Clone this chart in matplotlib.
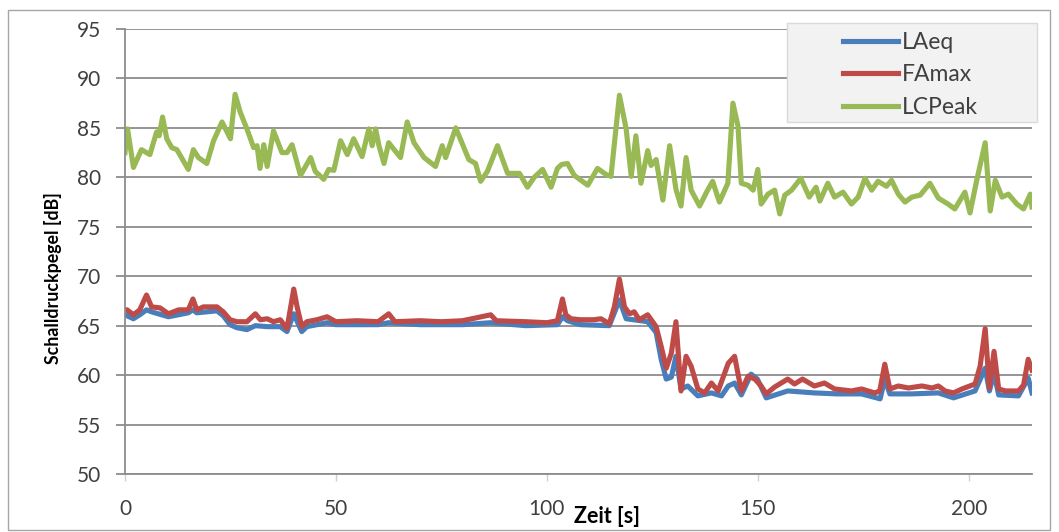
import matplotlib
matplotlib.use("Agg")
import matplotlib.pyplot as plt
from matplotlib.patches import Rectangle

plt.rcParams['font.family'] = ['Lato', 'DejaVu Sans']

# LCPeak (green)
t_peak = [0, 0.6, 2.0, 3.9, 5.9, 7.5, 8.1, 8.9, 9.9, 11.1, 12.3, 15.0, 16.2, 17.4, 19.4,
          21.0, 23.0, 25.0, 26.1, 27.3, 28.9, 30.5, 31.3, 32.0, 32.9, 33.7, 35.2, 37.2,
          38.4, 39.6, 41.6, 44.0, 45.1, 47.1, 48.3, 49.5, 51.1, 52.7, 54.2, 56.2, 57.8,
          58.6, 59.4, 60.2, 61.4, 62.5, 65.3, 66.9, 68.5, 70.9, 73.6, 75.2, 76.0, 78.4,
          81.5, 83.1, 84.3, 85.9, 88.3, 90.7, 93.5, 95.4, 97.0, 99.0, 101.0, 102.5,
          103.5, 104.9, 106.5, 108.1, 109.7, 112.0, 114.0, 115.2, 117.2, 118.8, 120.0,
          121.1, 122.3, 123.9, 124.7, 125.9, 127.5, 129.1, 130.6, 131.8, 133.0, 134.2,
          136.2, 138.1, 139.3, 140.9, 142.9, 144.1, 145.3, 146.1, 147.7, 148.9, 150.0,
          150.8, 152.4, 154.0, 155.2, 156.4, 158.0, 160.2, 162.2, 163.8, 164.7, 166.6,
          168.2, 170.2, 172.2, 173.8, 175.4, 177.0, 178.5, 180.5, 181.7, 183.3, 184.9,
          186.5, 188.5, 190.8, 192.8, 195.1, 196.7, 199.1, 200.3, 201.9, 203.9, 205.1,
          206.3, 207.9, 209.4, 211.4, 213.0, 214.6, 215.0]
lc_peak = [82.5, 84.9, 81.0, 82.8, 82.3, 84.6, 84.2, 86.1, 83.9, 83.0, 82.8, 80.8, 82.8, 82.0, 81.4,
           83.7, 85.6, 83.9, 88.4, 86.6, 84.9, 83.0, 83.2, 80.9, 83.3, 81.1, 84.7, 82.5,
           82.5, 83.3, 80.2, 82.0, 80.6, 79.8, 80.8, 80.7, 83.7, 82.3, 83.9, 82.1, 84.9,
           83.2, 84.9, 83.2, 81.4, 83.5, 82.0, 85.6, 83.5, 82.0, 81.1, 83.2, 82.0, 85.0,
           81.8, 81.4, 79.6, 80.6, 83.2, 80.4, 80.4, 79.0, 80.0, 80.8, 79.0, 80.9,
           81.3, 81.4, 80.2, 79.7, 79.2, 80.9, 80.3, 80.1, 88.3, 84.9, 80.1,
           84.2, 79.4, 82.7, 81.2, 81.8, 77.7, 83.2, 78.8, 77.1, 82.0, 78.7,
           77.1, 78.7, 79.6, 77.5, 79.4, 87.5, 85.2, 79.4, 79.2, 78.7, 80.8,
           77.3, 78.3, 78.7, 76.3, 78.2, 78.7, 79.9, 78.0, 79.0, 77.6, 79.4,
           78.0, 78.5, 77.3, 78.0, 79.9, 78.7, 79.6, 79.1, 79.7, 78.3, 77.5,
           78.0, 78.2, 79.4, 77.9, 77.3, 76.8, 78.5, 76.4, 79.7, 83.5, 76.6,
           79.7, 78.0, 78.3, 77.3, 76.8, 78.3, 77.0]

# FAmax (red)
t_fmax = [0, 0.5, 2.0, 3.5, 5.1, 6.3, 8.3, 10.3, 12.7, 15.0, 16.1, 17.0, 18.6, 21.8, 23.3,
          24.9, 26.5, 28.9, 30.9, 32.1, 33.7, 35.2, 36.8, 38.4, 40.0, 40.8, 41.9, 43.1,
          45.5, 47.9, 50.0, 55.0, 60.0, 62.5, 64.0, 70.0, 75.0, 80.0, 86.7, 88.0, 95.0,
          100.0, 102.5, 103.7, 104.5, 105.7, 108.0, 111.2, 112.8, 114.8, 116.0, 117.2,
          118.4, 119.6, 120.7, 121.9, 123.9, 125.9, 127.1, 128.3, 129.5, 130.6, 131.8,
          133.0, 134.2, 135.8, 137.4, 139.0, 140.6, 143.0, 144.5, 146.1, 147.7, 149.3,
          150.8, 152.0, 154.0, 157.1, 158.7, 160.6, 163.4, 165.8, 168.2, 172.2, 174.6,
          177.7, 178.9, 180.1, 181.3, 183.3, 185.7, 188.9, 191.3, 192.8, 194.4, 196.4,
          198.4, 201.5, 202.7, 203.9, 204.9, 206.0, 207.1, 208.7, 211.8, 213.0, 214.1, 215.0]
fa_max = [66.6, 66.6, 66.1, 66.6, 68.1, 66.9, 66.8, 66.2, 66.6, 66.6, 67.7, 66.6, 66.9, 66.9, 66.4,
          65.6, 65.4, 65.4, 66.2, 65.6, 65.7, 65.4, 65.6, 64.7, 68.7, 66.9, 64.9, 65.4,
          65.6, 65.9, 65.4, 65.5, 65.4, 66.2, 65.4, 65.5, 65.4, 65.5, 66.1, 65.5, 65.4,
          65.3, 65.5, 67.7, 66.1, 65.7, 65.6, 65.6, 65.7, 65.2, 66.9, 69.7,
          66.9, 66.2, 66.4, 65.6, 66.1, 64.9, 62.9, 60.7, 62.2, 65.4, 58.4,
          61.9, 60.9, 58.6, 58.2, 59.2, 58.4, 61.2, 61.9, 58.4, 59.9, 59.6,
          58.9, 58.1, 58.8, 59.6, 59.1, 59.6, 58.9, 59.2, 58.6, 58.4, 58.6,
          58.2, 58.4, 61.1, 58.6, 58.9, 58.7, 58.9, 58.7, 58.9, 58.4, 58.2,
          58.6, 59.1, 60.9, 64.7, 58.7, 62.4, 58.6, 58.4, 58.4, 59.0, 61.6, 60.5]

# LAeq (blue)
t_laeq = [0, 2.0, 3.5, 5.1, 6.3, 10.3, 15.0, 16.1, 17.0, 21.8, 23.3, 24.9, 26.5, 28.9, 30.9,
          33.7, 36.8, 38.4, 40.0, 41.9, 43.1, 45.5, 47.9, 50.0, 60.0, 62.5, 70.0, 80.0,
          86.7, 95.0, 102.5, 103.7, 104.9, 108.0, 114.8, 117.2, 118.8, 123.9, 125.9,
          127.1, 128.3, 129.5, 130.6, 131.8, 133.4, 135.8, 139.0, 141.4, 143.0, 144.5,
          146.1, 148.4, 149.9, 152.0, 157.1, 163.4, 168.8, 174.6, 179.0, 180.1, 181.3,
          186.5, 192.8, 196.4, 201.5, 203.9, 204.9, 206.0, 207.1, 211.8, 214.1, 215.0]
la_eq = [66.1, 65.7, 66.1, 66.6, 66.4, 65.9, 66.3, 66.6, 66.3, 66.5, 66.0, 65.1, 64.8, 64.6, 65.0,
         64.9, 64.9, 64.4, 66.2, 64.4, 64.9, 65.1, 65.3, 65.1, 65.1, 65.3, 65.1, 65.1,
         65.3, 65.0, 65.1, 65.9, 65.5, 65.1, 65.0, 67.6, 65.7, 65.4, 64.3,
         61.6, 59.6, 59.8, 61.9, 58.6, 58.9, 57.9, 58.2, 57.9, 58.9, 59.2,
         58.0, 60.1, 59.6, 57.7, 58.4, 58.2, 58.1, 58.1, 57.6, 59.6, 58.1,
         58.1, 58.2, 57.7, 58.4, 60.7, 58.4, 60.2, 58.0, 57.9, 59.7, 58.2]

x_ticks = [0, 50, 100, 150, 200]
y_ticks = [50, 55, 60, 65, 70, 75, 80, 85, 90, 95]

W, H = 1059, 532
fig = plt.figure(figsize=(W / 100, H / 100), dpi=100)


def px(x0, y0, x1, y1):
    # pixel box (top-left origin) -> figure fraction rect
    return [x0 / W, 1 - y1 / H, (x1 - x0) / W, (y1 - y0) / H]


ax = fig.add_axes(px(125, 29, 1032, 474))

grid_col = '#8c8c8c'
ax.plot(t_laeq, la_eq, color='#4a7ebb', lw=3.7, label='LAeq', solid_joinstyle='round')
ax.plot(t_fmax, fa_max, color='#be4b48', lw=3.7, label='FAmax', solid_joinstyle='round')
ax.plot(t_peak, lc_peak, color='#98b954', lw=3.7, label='LCPeak', solid_joinstyle='round')

ax.set_xlim(0, 215)
ax.set_ylim(50, 95)
ax.set_xticks(x_ticks)
ax.set_yticks(y_ticks)
ax.yaxis.grid(True, color=grid_col, lw=1.3)
ax.set_axisbelow(True)
for side in ['top', 'right']:
    ax.spines[side].set_visible(False)
for side in ['left', 'bottom']:
    ax.spines[side].set_color(grid_col)
    ax.spines[side].set_linewidth(1.3)
ax.tick_params(axis='y', length=6.5, width=1.3, color=grid_col, pad=11,
               labelsize=15, labelcolor='#404040')
ax.tick_params(axis='x', length=5, width=1, color='#d0d0d0', pad=13,
               labelsize=15, labelcolor='#404040')

ax.set_ylabel('Schalldruckpegel [dB]', fontsize=12.8, fontweight='bold')
ax.yaxis.set_label_coords(-0.07, 0.44)
ax.set_xlabel('Zeit [s]', fontsize=15.5, fontweight='bold')
ax.xaxis.set_label_coords(0.531, -0.073)

# legend box
lx, ly, lw_, lh = px(787, 23, 1037, 122)
fig.patches.append(Rectangle((lx, ly), lw_, lh, transform=fig.transFigure,
                             facecolor='#f2f2f2', edgecolor='#d9d9d9', lw=1, zorder=5))
leg = fig.legend(loc='center left', bbox_to_anchor=(843 / W, 1 - 75 / H), frameon=False,
                 fontsize=16.5, handlelength=2.4, handletextpad=0.15, labelspacing=0.5,
                 borderpad=0, borderaxespad=0)
leg.set_zorder(6)
for txt in leg.get_texts():
    txt.set_color('#404040')

# outer chart border
fig.patches.append(Rectangle((8 / W, 1 - 530 / H), (1050 - 8) / W, (530 - 10) / H,
                             transform=fig.transFigure, fill=False,
                             edgecolor='#a6a6a6', lw=1))

fig.savefig('out.png', dpi=100)
